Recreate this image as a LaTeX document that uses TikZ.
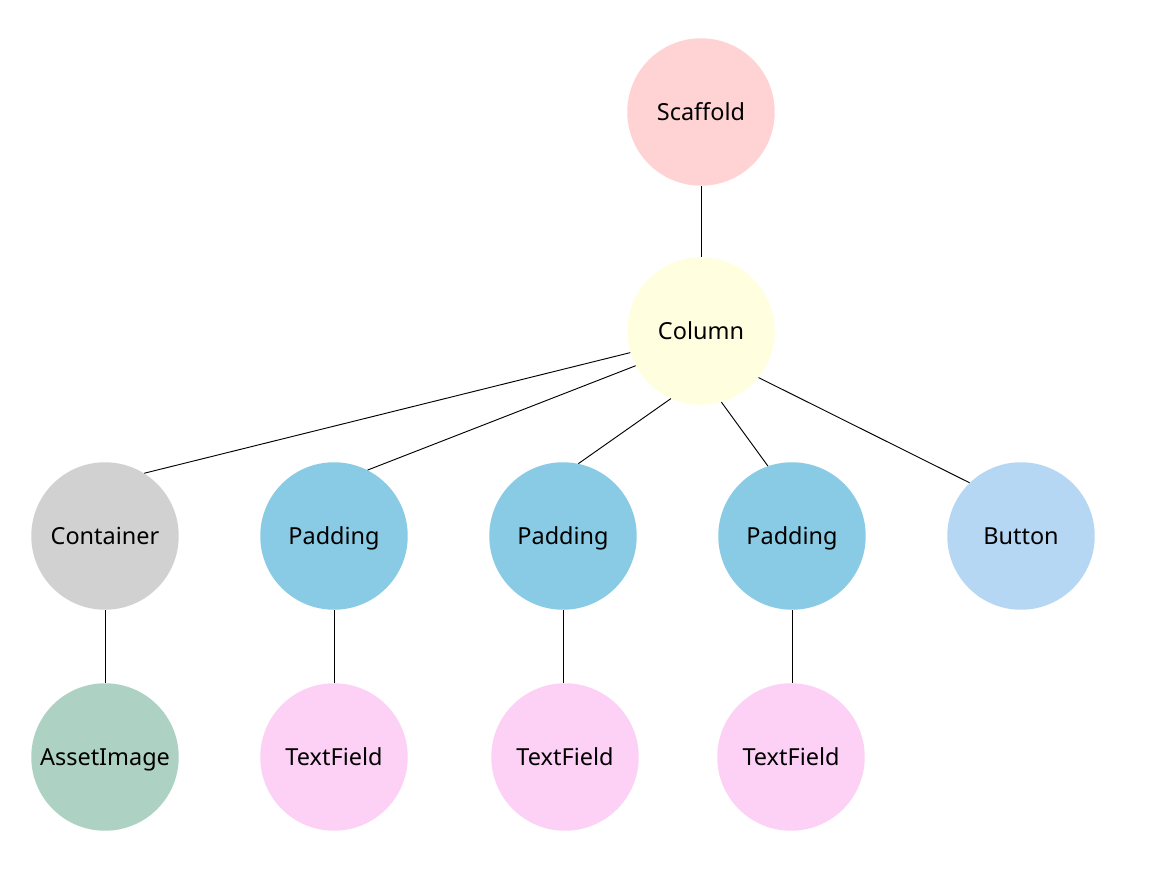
\documentclass[tikz,border=0pt]{standalone}
\usepackage{fontspec}
\setmainfont{Noto Sans}
\definecolor{cScaffold}{HTML}{FFD3D3}
\definecolor{cColumn}{HTML}{FFFFE0}
\definecolor{cContainer}{HTML}{D1D1D1}
\definecolor{cPadding}{HTML}{89CBE5}
\definecolor{cButton}{HTML}{B6D7F3}
\definecolor{cAsset}{HTML}{ADD1C3}
\definecolor{cText}{HTML}{FCD1F5}
\begin{document}
\begin{tikzpicture}[x=0.75pt,y=-0.75pt,
  wnode/.style={circle,minimum size=110.6pt,inner sep=0pt,
    font=\fontsize{17.6}{20}\selectfont,text height=12.6pt,text depth=0pt},
  edge/.style={draw=black,line width=0.7pt}]
\fill[white] (0,0) rectangle (1161,895);
\useasboundingbox (0,0) rectangle (1161,895);
\node[wnode,fill=cScaffold] (scaffold) at (701,112) {Scaffold};
\node[wnode,fill=cColumn] (column) at (701,331) {Column};
\node[wnode,fill=cContainer] (container) at (105,536) {Container};
\node[wnode,fill=cPadding] (pad1) at (334,536) {Padding};
\node[wnode,fill=cPadding] (pad2) at (563,536) {Padding};
\node[wnode,fill=cPadding] (pad3) at (792,536) {Padding};
\node[wnode,fill=cButton] (button) at (1021,536) {Button};
\node[wnode,fill=cAsset] (asset) at (105,757) {AssetImage};
\node[wnode,fill=cText] (tf1) at (334,757) {TextField};
\node[wnode,fill=cText] (tf2) at (565,757) {TextField};
\node[wnode,fill=cText] (tf3) at (791,757) {TextField};
\draw[edge] (scaffold.south) -- (column.north);
\draw[edge] (column.197.4) -- (container.58.4);
\draw[edge] (column.208.5) -- (pad1.63.2);
\draw[edge] (column.246) -- (pad2.78);
\draw[edge] (column.286.7) -- (pad3.109.1);
\draw[edge] (column.321) -- (button.134.7);
\draw[edge] (container.south) -- (asset.north);
\draw[edge] (pad1.south) -- (tf1.north);
\draw[edge] (pad2.south) -- (pad2.south |- tf2.north);
\draw[edge] (pad3.south) -- (tf3.north -| pad3.south);
\end{tikzpicture}
\end{document}
